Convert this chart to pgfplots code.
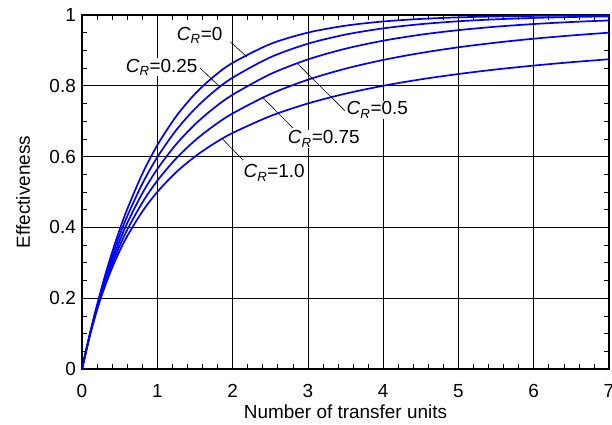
\documentclass[border=0pt]{standalone}
\usepackage{fontspec}
\setmainfont{Liberation Sans}
\usepackage{pgfplots}
\pgfplotsset{compat=1.18}

% effectiveness vs NTU, counterflow
\pgfplotstableread{
N     c0      c25     c50     c75     c100
0     0       0       0       0       0
0.1   0.0952  0.0941  0.0930  0.0920  0.0909
0.2   0.1813  0.1775  0.1738  0.1702  0.1667
0.3   0.2592  0.2517  0.2445  0.2375  0.2308
0.4   0.3297  0.3181  0.3069  0.2961  0.2857
0.5   0.3935  0.3776  0.3623  0.3475  0.3333
0.6   0.4512  0.4311  0.4117  0.3930  0.3750
0.8   0.5507  0.5229  0.4959  0.4697  0.4444
1.0   0.6321  0.5983  0.5647  0.5319  0.5000
1.25  0.7135  0.6744  0.6346  0.5947  0.5556
1.5   0.7769  0.7350  0.6908  0.6454  0.6000
1.75  0.8262  0.7836  0.7367  0.6870  0.6364
2.0   0.8647  0.8228  0.7746  0.7218  0.6667
2.5   0.9179  0.8804  0.8328  0.7764  0.7143
3.0   0.9502  0.9188  0.8744  0.8171  0.7500
3.5   0.9698  0.9447  0.9048  0.8484  0.7778
4.0   0.9817  0.9622  0.9274  0.8730  0.8000
4.5   0.9889  0.9741  0.9444  0.8927  0.8182
5.0   0.9933  0.9823  0.9572  0.9088  0.8333
5.5   0.9959  0.9878  0.9670  0.9220  0.8462
6.0   0.9975  0.9917  0.9745  0.9330  0.8571
6.5   0.9985  0.9943  0.9802  0.9422  0.8667
7.0   0.9991  0.9961  0.9847  0.9501  0.8750
}\effdata

\begin{document}
\begin{tikzpicture}[font=\fontsize{19}{23}\selectfont]
\begin{axis}[
    at={(0,0)}, anchor=south west,
    scale only axis,
    width=527bp, height=354bp,
    xmin=0, xmax=7, ymin=0, ymax=1,
    xtick={0,1,...,7},
    ytick={0,0.2,0.4,0.6,0.8,1},
    minor x tick num=4,
    minor y tick num=3,
    tick align=inside,
    xtick pos=both, ytick pos=both,
    major tick length=0bp,
    minor tick length=5bp,
    grid=major,
    major grid style={black, line width=0.6bp},
    minor tick style={black, line width=0.6bp},
    axis line style={black, line width=1.5bp},
    /pgf/number format/assume math mode=true,
    xticklabel style={anchor=north, inner sep=0pt, yshift=-15bp},
    yticklabel style={anchor=east, inner sep=0pt, xshift=-6bp},
    xlabel={Number of transfer units},
    ylabel={Effectiveness},
    xlabel style={at={(axis description cs:0.5,-0.1412)}, anchor=base, inner sep=0pt},
    ylabel style={at={(axis description cs:-0.0987,0.5)}, anchor=base, inner sep=0pt},
    clip=true,
  ]
  \addplot[blue, line width=1.7bp, smooth] table[x=N, y=c0]   {\effdata};
  \addplot[blue, line width=1.7bp, smooth] table[x=N, y=c25]  {\effdata};
  \addplot[blue, line width=1.7bp, smooth] table[x=N, y=c50]  {\effdata};
  \addplot[blue, line width=1.7bp, smooth] table[x=N, y=c75]  {\effdata};
  \addplot[blue, line width=1.7bp, smooth] table[x=N, y=c100] {\effdata};

  % labels with leader lines
  \draw[black, line width=0.6bp] (axis cs:1.97,0.924) -- (axis cs:2.19,0.882);
  \draw[black, line width=0.6bp] (axis cs:1.57,0.850) -- (axis cs:1.83,0.797);
  \draw[black, line width=0.6bp] (axis cs:2.855,0.864) -- (axis cs:3.49,0.730);
  \draw[black, line width=0.6bp] (axis cs:2.40,0.767) -- (axis cs:2.80,0.681);
  \draw[black, line width=0.6bp] (axis cs:1.86,0.651) -- (axis cs:2.14,0.590);

  \node[anchor=east, inner sep=1pt, fill=white] at (axis cs:1.88,0.943) {\textit{C}\textsubscript{\textit{R}}=0};
  \node[anchor=east, inner sep=1pt, fill=white] at (axis cs:1.55,0.853) {\textit{C}\textsubscript{\textit{R}}=0.25};
  \node[anchor=west, inner sep=1pt, fill=white] at (axis cs:3.50,0.732) {\textit{C}\textsubscript{\textit{R}}=0.5};
  \node[anchor=west, inner sep=1pt, fill=white] at (axis cs:2.72,0.650) {\textit{C}\textsubscript{\textit{R}}=0.75};
  \node[anchor=west, inner sep=1pt, fill=white] at (axis cs:2.13,0.554) {\textit{C}\textsubscript{\textit{R}}=1.0};
\end{axis}
\pgfresetboundingbox
\path[use as bounding box] (-82bp,-56bp) rectangle (530bp,369bp);
\end{tikzpicture}
\end{document}
